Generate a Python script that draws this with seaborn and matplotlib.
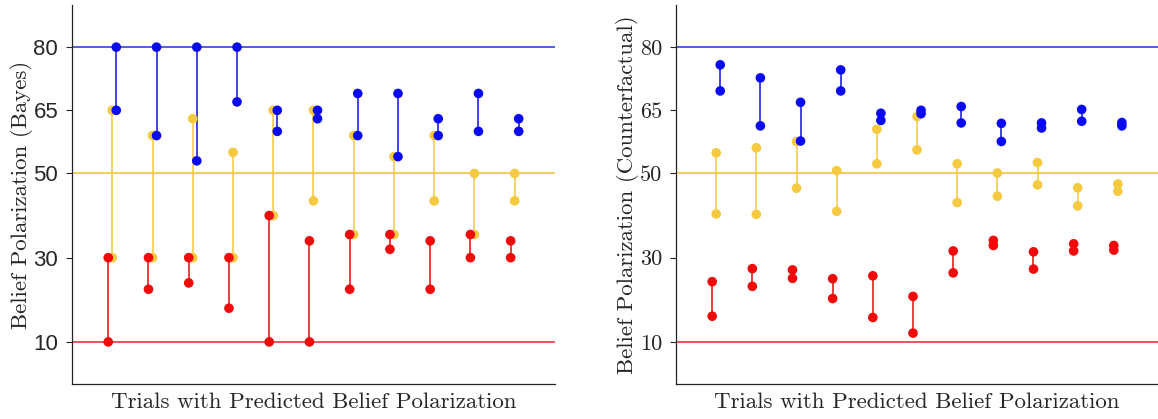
import numpy as np
import pandas as pd
import matplotlib
matplotlib.use("Agg")
import matplotlib.pyplot as plt
import seaborn as sns

trials = list(range(1, 12))

# Bayes panel: (upper, lower) point of each pair
bayes_blue_hi = [80, 80, 80, 80, 65, 65, 69, 69, 63, 69, 63]
bayes_blue_lo = [65, 59, 53, 67, 60, 63, 59, 54, 59, 60, 60]
bayes_yellow_hi = [65, 59, 63, 55, 65, 65, 59, 54, 59, 50, 50]
bayes_yellow_lo = [30, 30, 30, 30, 40, 43.5, 35.5, 35.5, 43.5, 35.5, 43.5]
bayes_red_hi = [30, 30, 30, 30, 40, 34, 35.5, 35.5, 34, 35.5, 34]
bayes_red_lo = [10, 22.5, 24, 18, 10, 10, 22.5, 32, 22.5, 30, 30]

# Counterfactual panel
cf_blue_hi = [75.8, 72.7, 66.9, 74.6, 64.3, 65.0, 65.9, 61.9, 62.0, 65.2, 62.1]
cf_blue_lo = [69.6, 61.3, 57.7, 69.6, 62.6, 64.2, 62.0, 57.6, 60.8, 62.4, 61.3]
cf_yellow_hi = [54.9, 56.1, 57.6, 50.7, 60.5, 63.5, 52.3, 50.1, 52.6, 46.6, 47.5]
cf_yellow_lo = [40.4, 40.3, 46.5, 41.0, 52.3, 55.6, 43.1, 44.6, 47.3, 42.3, 45.8]
cf_red_hi = [24.3, 27.4, 27.1, 25.0, 25.7, 20.8, 31.6, 34.1, 31.4, 33.3, 32.9]
cf_red_lo = [16.1, 23.2, 25.1, 20.3, 15.8, 12.1, 26.4, 32.9, 27.3, 31.6, 31.8]

reference_levels = {"blue": 80, "yellow": 50, "red": 10}
yticks = [10, 30, 50, 65, 80]

dot_colors = {"yellow": "#f5c940", "red": "#f00a0a", "blue": "#0a0af2"}
stem_colors = {"yellow": "#f5cc50", "red": "#e81c1c", "blue": "#2222e0"}
ref_colors = {"yellow": "#f7c948", "red": "#e4494c", "blue": "#4b4be4"}
offsets = {"yellow": 0.0, "red": -0.1, "blue": 0.1}


def make_frame(series):
    rows = []
    for name, (hi, lo) in series.items():
        for t, h, l in zip(trials, hi, lo):
            rows.append({"trial": t + offsets[name], "group": name, "hi": h, "lo": l})
    return pd.DataFrame(rows)


def draw_panel(ax, df, ylabel, tick_family, tick_size):
    for name in ["yellow", "red", "blue"]:
        ax.axhline(reference_levels[name], color=ref_colors[name], lw=1.3, zorder=1)
    for name in ["yellow", "red", "blue"]:
        sub = df[df["group"] == name]
        ax.vlines(sub["trial"], sub["lo"], sub["hi"], color=stem_colors[name], lw=1.2, zorder=2)
        pts = pd.concat([
            sub[["trial"]].assign(value=sub["hi"]),
            sub[["trial"]].assign(value=sub["lo"]),
        ])
        sns.scatterplot(data=pts, x="trial", y="value", ax=ax, color=dot_colors[name],
                        s=48, edgecolor="none", zorder=3, legend=False)
    ax.set_xlim(0, 12)
    ax.set_ylim(0, 90)
    ax.set_xticks([])
    ax.set_yticks(yticks)
    ax.set_yticklabels([str(v) for v in yticks], family=tick_family, fontsize=tick_size)
    ax.tick_params(axis="y", direction="out", length=4, width=0.8, pad=6)
    ax.set_xlabel("Trials with Predicted Belief Polarization", family="cmr10",
                  fontsize=16.5, labelpad=6)
    ax.set_ylabel(ylabel, family="cmr10", fontsize=16.5, labelpad=0.5)
    sns.despine(ax=ax)
    for sp in ["left", "bottom"]:
        ax.spines[sp].set_linewidth(0.9)
        ax.spines[sp].set_color("#222222")


sns.set_style("ticks")
plt.rcParams["axes.formatter.use_mathtext"] = True

fig = plt.figure(figsize=(11.58, 4.19), dpi=100)
ax1 = fig.add_axes([0.0622, 0.0835, 0.417, 0.9045])
ax2 = fig.add_axes([0.5838, 0.0835, 0.4162, 0.9045])

bayes = make_frame({"yellow": (bayes_yellow_hi, bayes_yellow_lo),
                    "red": (bayes_red_hi, bayes_red_lo),
                    "blue": (bayes_blue_hi, bayes_blue_lo)})
cf = make_frame({"yellow": (cf_yellow_hi, cf_yellow_lo),
                 "red": (cf_red_hi, cf_red_lo),
                 "blue": (cf_blue_hi, cf_blue_lo)})

draw_panel(ax1, bayes, "Belief Polarization (Bayes)", "Liberation Sans", 16)
draw_panel(ax2, cf, "Belief Polarization (Counterfactual)", "cmr10", 16)

fig.savefig("out.png", dpi=100)
